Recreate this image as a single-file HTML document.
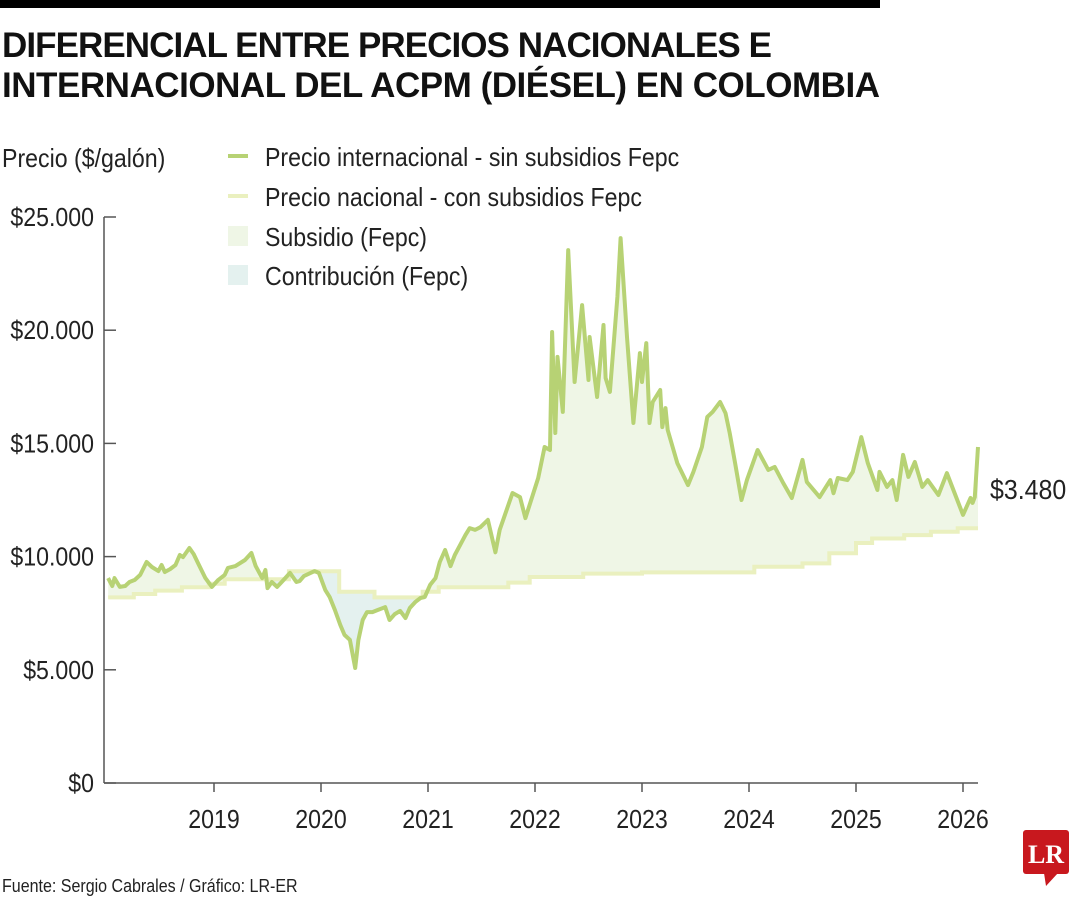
<!DOCTYPE html>
<html><head><meta charset="utf-8">
<style>
body{margin:0;width:1080px;height:900px;background:#fff;overflow:hidden;font-family:"Liberation Sans",sans-serif;}
svg text{font-family:"Liberation Sans",sans-serif;}
</style></head><body>
<svg id="chart" width="1080" height="900">
<rect x="0" y="0" width="880" height="8" fill="#000"/>
<text x="2" y="57" font-size="35" font-weight="bold" fill="#111" textLength="770">DIFERENCIAL ENTRE PRECIOS NACIONALES E</text>
<text x="2" y="97" font-size="35" font-weight="bold" fill="#111" textLength="878">INTERNACIONAL DEL ACPM (DIÉSEL) EN COLOMBIA</text>
<text class="c" x="2" y="167" font-size="26" fill="#222">Precio ($/galón)</text>
<g>
<line x1="228" y1="156" x2="248" y2="156" stroke="#b7d274" stroke-width="4"/>
<text class="c" x="265" y="166" font-size="26" fill="#222">Precio internacional - sin subsidios Fepc</text>
<line x1="228" y1="196" x2="248" y2="196" stroke="#eaf0bf" stroke-width="4"/>
<text class="c" x="265" y="206" font-size="26" fill="#222">Precio nacional - con subsidios Fepc</text>
<rect x="228" y="226" width="20" height="20" fill="#eff6e6"/>
<text class="c" x="265" y="246" font-size="26" fill="#222">Subsidio (Fepc)</text>
<rect x="228" y="265" width="20" height="20" fill="#e4f1ef"/>
<text class="c" x="265" y="285" font-size="26" fill="#222">Contribución (Fepc)</text>
</g>
<g id="plot"></g>
<text class="c" x="990" y="499" font-size="28" fill="#222">$3.480</text>
<text class="c" x="2" y="892" font-size="18" fill="#222">Fuente: Sergio Cabrales / Gráfico: LR-ER</text>
<g>
<rect x="1023" y="830" width="46" height="44" rx="3" fill="#c8181e"/>
<polygon points="1044,873 1058,873 1046,886" fill="#c8181e"/>
<text x="1046" y="863" font-size="26" font-weight="bold" fill="#fff" text-anchor="middle" style="font-family:'Liberation Serif',serif">LR</text>
</g>
</svg>
<script>
const intlDates=[2018.01,2018.05,2018.07,2018.12,2018.17,2018.21,2018.26,2018.31,2018.37,2018.42,2018.48,2018.51,2018.54,2018.59,2018.64,2018.68,2018.71,2018.77,2018.81,2018.85,2018.92,2018.98,2019.04,2019.10,2019.13,2019.20,2019.29,2019.35,2019.39,2019.45,2019.48,2019.50,2019.54,2019.59,2019.64,2019.71,2019.77,2019.80,2019.84,2019.94,2019.98,2020.04,2020.08,2020.13,2020.18,2020.22,2020.27,2020.32,2020.35,2020.39,2020.43,2020.48,2020.53,2020.60,2020.64,2020.69,2020.74,2020.79,2020.83,2020.88,2020.93,2020.97,2021.02,2021.07,2021.11,2021.16,2021.21,2021.25,2021.30,2021.35,2021.39,2021.44,2021.49,2021.56,2021.63,2021.67,2021.79,2021.86,2021.91,2022.03,2022.09,2022.14,2022.16,2022.19,2022.21,2022.26,2022.31,2022.37,2022.44,2022.50,2022.51,2022.58,2022.64,2022.66,2022.70,2022.77,2022.80,2022.86,2022.92,2022.98,2023.00,2023.04,2023.07,2023.10,2023.17,2023.19,2023.22,2023.24,2023.33,2023.43,2023.48,2023.56,2023.61,2023.66,2023.73,2023.78,2023.82,2023.87,2023.93,2023.98,2024.08,2024.18,2024.24,2024.32,2024.40,2024.50,2024.54,2024.66,2024.76,2024.79,2024.83,2024.92,2024.97,2025.05,2025.11,2025.20,2025.22,2025.29,2025.34,2025.38,2025.44,2025.49,2025.55,2025.62,2025.67,2025.77,2025.85,2026.00,2026.07,2026.09,2026.11,2026.14];
const intlValues=[9050,8700,9050,8660,8700,8880,8970,9190,9760,9540,9360,9630,9320,9450,9630,10070,9980,10380,10110,9720,9050,8660,8970,9190,9500,9580,9850,10160,9580,9050,9410,8610,8880,8660,8920,9280,8880,8920,9140,9360,9280,8520,8220,7640,6980,6540,6320,5080,6320,7200,7550,7550,7640,7770,7200,7460,7600,7290,7730,7990,8170,8220,8750,9050,9760,10290,9580,10070,10510,10950,11260,11180,11300,11620,10190,11180,12810,12630,11700,13470,14840,14710,19920,15460,18820,16390,23540,17710,21110,17800,19700,17050,20230,17890,17270,21470,24070,19700,15900,18990,17710,19430,15900,16830,17360,15720,16560,15590,14130,13160,13740,14840,16170,16390,16830,16340,15460,14130,12500,13380,14710,13830,13960,13250,12590,14270,13300,12630,13380,12800,13470,13380,13740,15280,14130,12940,13740,13080,13380,12500,14490,13520,14180,13080,13380,12720,13690,11840,12590,12370,12630,14840];
const natDates=[2018.00,2018.25,2018.45,2018.70,2018.95,2019.10,2019.70,2020.17,2020.50,2020.95,2021.10,2021.75,2021.95,2022.45,2023.00,2024.05,2024.50,2024.75,2025.00,2025.15,2025.45,2025.70,2025.95];
const natValues=[8200,8350,8500,8650,8800,9000,9350,8450,8200,8450,8650,8850,9100,9250,9300,9550,9700,10150,10600,10800,10950,11100,11250];
const yTicks=[0,5000,10000,15000,20000,25000];
const yTickLabels=["$0","$5.000","$10.000","$15.000","$20.000","$25.000"];
const xTicks=[2019,2020,2021,2022,2023,2024,2025,2026];
const xTickLabels=["2019","2020","2021","2022","2023","2024","2025","2026"];

const NS="http://www.w3.org/2000/svg";
const X=t=>214+(t-2019)*107;
const Y=v=>783-v*0.02264;
const plot=document.getElementById('plot');
function mk(tag,attrs,parent){const e=document.createElementNS(NS,tag);for(const k in attrs)e.setAttribute(k,attrs[k]);(parent||plot).appendChild(e);return e;}
const endT=intlDates[intlDates.length-1], startT=intlDates[0];
const natPts=[];
for(let i=0;i<natDates.length;i++){
  const t0=Math.max(natDates[i],startT), t1=i+1<natDates.length?natDates[i+1]:endT;
  natPts.push([X(t0),Y(natValues[i])],[X(t1),Y(natValues[i])]);
}
const intlPts=intlDates.map((t,i)=>[X(t),Y(intlValues[i])]);
const ps=a=>a.map(p=>p[0].toFixed(1)+','+p[1].toFixed(1)).join(' ');
const defs=mk('defs',{});
const c1=mk('clipPath',{id:'aboveNat'},defs);
mk('polygon',{points:ps(natPts)+` ${X(endT)},0 ${X(startT)},0`},c1);
const c2=mk('clipPath',{id:'belowNat'},defs);
mk('polygon',{points:ps(natPts)+` ${X(endT)},${Y(0)} ${X(startT)},${Y(0)}`},c2);
const sub=mk('polygon',{points:ps(intlPts)+` ${X(endT)},${Y(0)} ${X(startT)},${Y(0)}`,fill:'#eff6e6','clip-path':'url(#aboveNat)'});


const con=mk('polygon',{points:ps(intlPts)+` ${X(endT)},0 ${X(startT)},0`,fill:'#e4f1ef','clip-path':'url(#belowNat)'});


const nl=mk('polyline',{points:ps(natPts),fill:'none',stroke:'#eaf0bf','stroke-width':4});


const il=mk('polyline',{points:ps(intlPts),fill:'none',stroke:'#b7d274','stroke-width':4,'stroke-linejoin':'round'});


const ya=mk('line',{x1:104,y1:Y(0),x2:104,y2:Y(25000),stroke:'#555','stroke-width':1.5});


const xa=mk('line',{x1:104,y1:Y(0),x2:978,y2:Y(0),stroke:'#555','stroke-width':1.5});


yTicks.forEach((v,i)=>{
  const tk=mk('line',{x1:104,y1:Y(v),x2:116,y2:Y(v),stroke:'#555','stroke-width':1.5});
  
  
  const tx=mk('text',{x:94,y:Y(v)+9,'font-size':26,'text-anchor':'end',fill:'#222',class:'c'});
  tx.textContent=yTickLabels[i];
  
  
});
xTicks.forEach((t,i)=>{
  const tk=mk('line',{x1:X(t),y1:Y(0),x2:X(t),y2:Y(0)+9,stroke:'#555','stroke-width':1.5});
  
  
  const tx=mk('text',{x:X(t),y:828,'font-size':26,'text-anchor':'middle',fill:'#222',class:'c'});
  tx.textContent=xTickLabels[i];
  
  
});
document.querySelectorAll('text.c').forEach(t=>{
  const w=t.getComputedTextLength();
  t.setAttribute('textLength',(w*0.89).toFixed(1));
  t.setAttribute('lengthAdjust','spacingAndGlyphs');
});
</script>
</body></html>
